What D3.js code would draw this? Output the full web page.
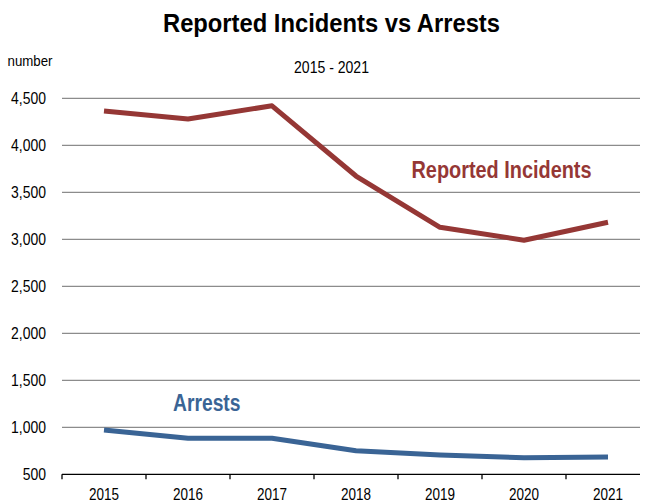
<!DOCTYPE html>
<html><head><meta charset="utf-8">
<script src="https://cdn.jsdelivr.net/npm/d3@7"></script>
<style>
html,body{margin:0;padding:0;background:#fff;}
svg{display:block;font-family:"Liberation Sans Narrow","Arial Narrow","Liberation Sans",Arial,sans-serif;}
</style></head>
<body>
<svg id="chart" width="645" height="503"></svg>
<script>
const years = ["2015","2016","2017","2018","2019","2020","2021"];
const reported = [4365, 4280, 4420, 3673, 3128, 2990, 3181];
const arrests = [971, 883, 883, 751, 705, 677, 684];
const yTicks = [500, 1000, 1500, 2000, 2500, 3000, 3500, 4000, 4500];

const svg = d3.select("#chart");
const plotLeft = 62, plotRight = 650, clipRight = 640, plotTop = 98.3, plotBottom = 474.3;

const x = d3.scaleBand().domain(years).range([plotLeft, plotRight]);
const y = d3.scaleLinear().domain([500, 4500]).range([plotBottom, plotTop]);

// condense text horizontally to mimic a narrow face
function narrow(sel, target) {
  sel.each(function () {
    const w = this.getComputedTextLength();
    const t = typeof target === "number" ? target : w * 0.82;
    this.setAttribute("textLength", t);
    this.setAttribute("lengthAdjust", "spacingAndGlyphs");
  });
}

// gridlines
svg.append("g").selectAll("line").data(yTicks.filter(d => d > 500)).join("line")
  .attr("x1", plotLeft).attr("x2", clipRight)
  .attr("y1", d => y(d)).attr("y2", d => y(d))
  .attr("stroke", "#8c8c8c").attr("stroke-width", 1.2);

// y labels
svg.append("g").selectAll("text").data(yTicks).join("text")
  .attr("x", 46).attr("y", d => y(d) + 6)
  .attr("text-anchor", "end")
  .attr("font-size", 17).attr("fill", "#000")
  .text(d => d3.format(",")(d))
  .call(narrow);

// x axis
const xa = svg.append("g");
xa.append("line").attr("x1", plotLeft).attr("x2", clipRight)
  .attr("y1", plotBottom).attr("y2", plotBottom).attr("stroke", "#000").attr("stroke-width", 1.3);
const tickPos = years.map(d => x(d)).filter(v => v <= clipRight);
xa.selectAll("line.tk").data(tickPos).join("line").attr("class", "tk")
  .attr("x1", d => d).attr("x2", d => d)
  .attr("y1", plotBottom).attr("y2", plotBottom + 5).attr("stroke", "#000").attr("stroke-width", 1.3);
xa.selectAll("text").data(years).join("text")
  .attr("x", d => x(d) + x.bandwidth() / 2).attr("y", 499.5)
  .attr("text-anchor", "middle").attr("font-size", 16).attr("fill", "#000")
  .text(d => d)
  .call(narrow, 30);

const line = d3.line().x((d, i) => x(years[i]) + x.bandwidth() / 2).y(d => y(d));

svg.append("path").datum(reported).attr("d", line)
  .attr("fill", "none").attr("stroke", "#953735").attr("stroke-width", 5).attr("stroke-linejoin", "round");
svg.append("path").datum(arrests).attr("d", line)
  .attr("fill", "none").attr("stroke", "#3a6495").attr("stroke-width", 5).attr("stroke-linejoin", "round");

// labels
svg.append("text").attr("x", 331.5).attr("y", 32).attr("text-anchor", "middle")
  .attr("font-size", 25).attr("font-weight", "bold").attr("fill", "#000")
  .text("Reported Incidents vs Arrests").call(narrow, 337);
svg.append("text").attr("x", 331.5).attr("y", 73).attr("text-anchor", "middle")
  .attr("font-size", 16).attr("fill", "#000").text("2015 - 2021").call(narrow, 75);
svg.append("text").attr("x", 7.5).attr("y", 66).attr("font-size", 15).attr("fill", "#000")
  .text("number").call(narrow, 45);
svg.append("text").attr("x", 411.5).attr("y", 177.5).attr("font-size", 23).attr("font-weight", "bold")
  .attr("fill", "#953735").text("Reported Incidents").call(narrow, 180);
svg.append("text").attr("x", 173).attr("y", 411).attr("font-size", 23).attr("font-weight", "bold")
  .attr("fill", "#3a6495").text("Arrests").call(narrow, 67.5);
</script>
</body></html>
